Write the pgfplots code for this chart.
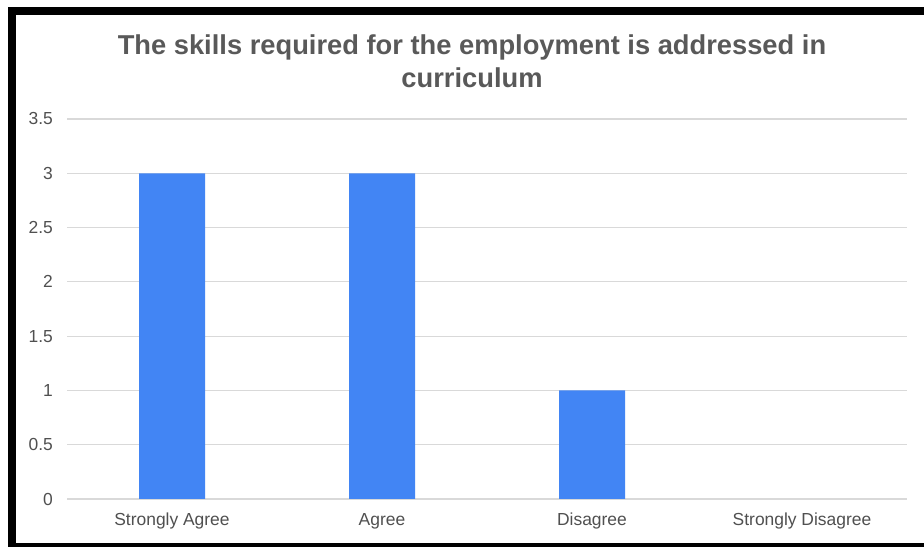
\documentclass[border=0pt]{standalone}
\usepackage{fontspec}
\setmainfont{Liberation Sans}
\usepackage{pgfplots}
\pgfplotsset{compat=1.18}

\definecolor{barblue}{HTML}{4285F4}
\definecolor{gridgray}{HTML}{D9D9D9}
\definecolor{titlegray}{HTML}{595959}
\definecolor{labelgray}{HTML}{505050}

\begin{document}
\begin{tikzpicture}
    \useasboundingbox (0,0) rectangle (924bp,547bp);
    \fill[white] (0,0) rectangle (924bp,547bp);

    % title, two lines
    \node[anchor=base, inner sep=0pt, text=titlegray, font=\fontsize{27.4}{32}\selectfont\bfseries]
        at (472bp,492bp) {The skills required for the employment is addressed in};
    \node[anchor=base, inner sep=0pt, text=titlegray, font=\fontsize{27.4}{32}\selectfont\bfseries]
        at (472bp,459bp) {curriculum};

    \begin{axis}[
        at={(67bp,48bp)},
        anchor=south west,
        scale only axis,
        width=840bp,
        height=380bp,
        ybar,
        bar width=66bp,
        xmin=-0.5, xmax=3.5,
        ymin=0, ymax=3.5,
        xtick={0,1,2,3},
        xticklabels={Strongly Agree, Agree, Disagree, Strongly Disagree},
        ytick={0,0.5,...,3.5},
        /pgf/number format/assume math mode=true,
        axis line style={draw=none},
        major tick length=0pt,
        ymajorgrids,
        grid style={gridgray, line width=1.2bp},
        tick label style={font=\fontsize{17.5}{20}\selectfont, text=labelgray},
        yticklabel style={anchor=east, inner sep=0pt, xshift=-14bp},
        xticklabel style={anchor=north, inner sep=0pt, yshift=-14bp},
    ]
        % zero-height bars are dropped so no sliver is drawn
        \addplot[fill=barblue, draw=none, unbounded coords=discard,
                 y filter/.expression={y==0 ? nan : y}]
            coordinates {(0,3) (1,3) (2,1) (3,0)};
    \end{axis}

    % black frame of the screenshot
    \fill[black] (8bp,0) rectangle (16bp,540bp);
    \fill[black] (8bp,532bp) rectangle (924bp,540bp);
    \fill[black] (8bp,0) rectangle (924bp,4bp);
\end{tikzpicture}
\end{document}
